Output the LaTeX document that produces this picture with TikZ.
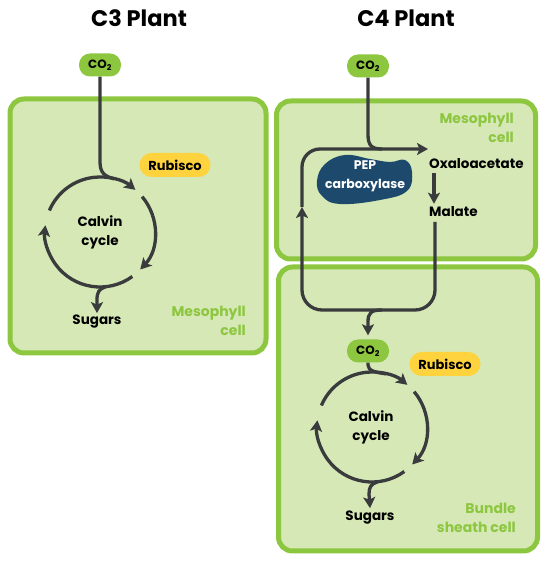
\documentclass[tikz,border=0pt]{standalone}
\usepackage{fontspec}
\setmainfont{Poppins}
\usetikzlibrary{arrows.meta,calc}
\definecolor{cellfill}{HTML}{D5E8B6}
\definecolor{cellline}{HTML}{8DC63F}
\definecolor{celltext}{HTML}{8DC63F}
\definecolor{flowc}{HTML}{3A3B3D}
\definecolor{rubiscoc}{HTML}{FFD33D}
\definecolor{pepc}{HTML}{1D4A6C}
\definecolor{co2c}{HTML}{8DC63F}
\begin{document}
\begin{tikzpicture}[x=1pt,y=1pt,
  cell/.style={draw=cellline, line width=5pt, fill=cellfill, rounded corners=14pt, inner sep=0pt},
  flow/.style={draw=flowc, line width=3.3pt},
  arr/.style={-{Stealth[length=11pt,width=12pt,inset=2.5pt]}},
  pill/.style={rounded corners=11pt, minimum width=42pt, minimum height=23pt, inner sep=0pt, font=\bfseries\fontsize{12}{12}\selectfont, fill=co2c, text=black},
  rub/.style={rounded corners=12pt, minimum width=71pt, minimum height=24pt, inner sep=0pt, font=\bfseries\fontsize{13}{14}\selectfont, fill=rubiscoc, text=black},
  lbl/.style={font=\bfseries\fontsize{13.5}{19}\selectfont, text=black, inner sep=0pt, align=center},
  celllbl/.style={font=\bfseries\fontsize{14}{19}\selectfont, text=celltext, inner sep=0pt, align=right},
  title/.style={font=\bfseries\fontsize{22.5}{24}\selectfont, text=black, inner sep=0pt}
]
\useasboundingbox (0,0) rectangle (549,562);

% titles
\node[title] (t3) at (139,544) {C3 Plant};
\node[title] (t4) at (406,544) {C4 Plant};

% cells
\node[cell, minimum width=256pt, minimum height=254pt] (c3cell) at (138,336) {};
\node[cell, minimum width=259pt, minimum height=158pt] (mcell) at (406,382) {};
\node[cell, minimum width=259pt, minimum height=284pt] (bcell) at (408,153) {};

\node[celllbl, anchor=east] (c3lbl) at (246,241) {Mesophyll\\cell};
\node[celllbl, anchor=east] (mlbl) at (514,434) {Mesophyll\\cell};
\node[celllbl, anchor=east] (blbl) at (516,44) {Bundle\\sheath cell};

% ---------- C3 ----------
\coordinate (lc) at (100,330);
\node[pill] (lco2) at (100,497) {CO\textsubscript{2}};
\node[rub] (lrub) at (175,397) {Rubisco};
\node[lbl] (lcal) at (100,330) {Calvin\\cycle};
\node[lbl] (lsug) at (97,240) {Sugars};

\draw[flow] (lco2.south) -- (100,400) .. controls (100,389) and (105,385.5) .. ([shift={(75:55)}]lc);
\draw[flow, arr] ([shift={(157:55)}]lc) arc[start angle=157, end angle=50, radius=55];
\draw[flow, arr] ([shift={(40:55)}]lc) arc[start angle=40, end angle=-43, radius=55];
\draw[flow, arr] ([shift={(-54:55)}]lc) arc[start angle=-54, end angle=-187, radius=55];
\draw[flow, arr] ([shift={(-84:55)}]lc) .. controls (99,273) and (97,270) .. (97,262) -- ([yshift=2pt]lsug.north);

% ---------- C4 mesophyll ----------
\node[pill] (rco2) at (368,496) {CO\textsubscript{2}};
\coordinate (pepm) at (365,382);
\fill[pepc] plot[smooth cycle, tension=0.7] coordinates {
  ($(pepm)+(-48,-1)$) ($(pepm)+(-40,16)$) ($(pepm)+(-20,25)$) ($(pepm)+(5,21)$)
  ($(pepm)+(25,18)$) ($(pepm)+(40,20)$) ($(pepm)+(47,8)$) ($(pepm)+(42,-11)$)
  ($(pepm)+(15,-20)$) ($(pepm)+(-25,-24)$) ($(pepm)+(-43,-16)$)};
\node[lbl, text=white, font=\bfseries\fontsize{12.5}{19}\selectfont] (pep) at (365,386) {PEP\\carboxylase};
\node[lbl, anchor=west] (oxa) at (429,398) {Oxaloacetate};
\node[lbl, anchor=west] (mal) at (429,350) {Malate};

\coordinate (oxin) at (428,413);
\coordinate (malout) at (435,340);
\coordinate (loopup) at (302,355);

\draw[flow, arr] ([xshift=5pt,yshift=-4pt]oxa.south west) -- ([xshift=5pt,yshift=3pt]mal.north west);
\draw[flow, arr, rounded corners=18pt] (loopup) -- (302,413) -- (oxin);
\draw[flow] (rco2.south) -- (368,428) .. controls (368,417) and (371,413) .. (382,413);
\draw[flow, arr, rounded corners=20pt] (malout) -- (435,252) -- (302,252) -- (loopup);

% ---------- C4 bundle sheath ----------
\coordinate (rc) at (372,135);
\node[pill] (bco2) at (368,211) {CO\textsubscript{2}};
\node[rub] (brub) at (445,198) {Rubisco};
\node[lbl] (bcal) at (371,135) {Calvin\\cycle};
\node[lbl] (bsug) at (370,44) {Sugars};

\draw[flow, arr] (382,252) .. controls (371,252) and (368,249) .. (368,240) -- ([yshift=4pt]bco2.north);
\draw[flow] (bco2.south) -- (368,197) .. controls (368,191) and (376,189.5) .. ([shift={(75:55)}]rc);
\draw[flow, arr] ([shift={(157:55)}]rc) arc[start angle=157, end angle=50, radius=55];
\draw[flow, arr] ([shift={(40:55)}]rc) arc[start angle=40, end angle=-43, radius=55];
\draw[flow, arr] ([shift={(-54:55)}]rc) arc[start angle=-54, end angle=-187, radius=55];
\draw[flow, arr] ([shift={(-84:55)}]rc) .. controls (371,78) and (369,75) .. (369,68) -- ([yshift=3pt]bsug.north);
\end{tikzpicture}
\end{document}
